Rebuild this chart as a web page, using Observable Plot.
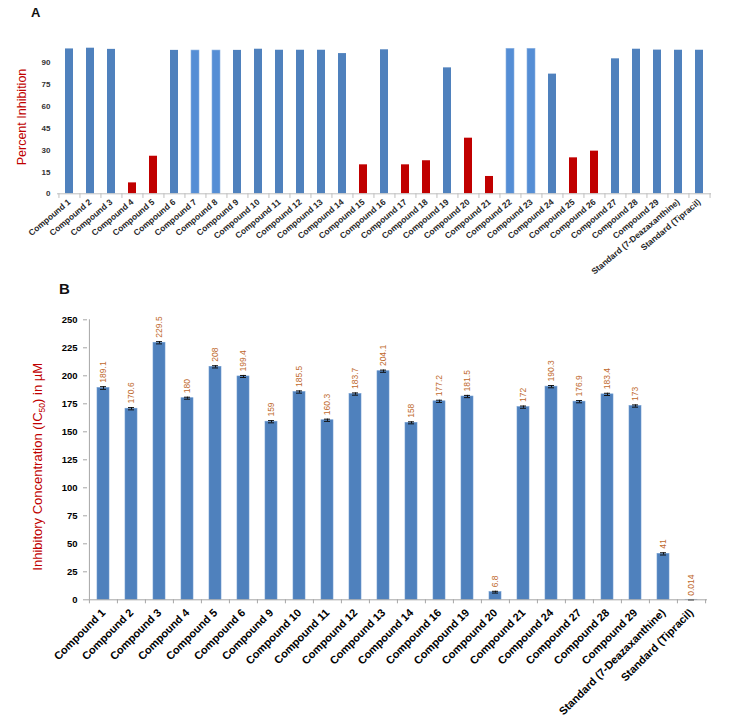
<!DOCTYPE html>
<html><head><meta charset="utf-8">
<script src="https://cdn.jsdelivr.net/npm/d3@7"></script>
<script src="https://cdn.jsdelivr.net/npm/@observablehq/plot@0.6"></script>
<style>
body{margin:0;background:#fff;font-family:"Liberation Sans",Arial,sans-serif;}
#wrap{position:relative;width:741px;height:727px;overflow:hidden;background:#fff;}
#wrap svg{position:absolute;left:0;}
#wrap g[aria-label="y-axis tick label"] text{font-weight:bold;}
.panel{position:absolute;font-weight:bold;font-family:"Liberation Sans",Arial,sans-serif;color:#111;}
</style></head><body><div id="wrap"></div><script>
// ---------- Panel A data ----------
const catsA = ["Compound 1","Compound 2","Compound 3","Compound 4","Compound 5","Compound 6","Compound 7","Compound 8","Compound 9","Compound 10","Compound 11","Compound 12","Compound 13","Compound 14","Compound 15","Compound 16","Compound 17","Compound 18","Compound 19","Compound 20","Compound 21","Compound 22","Compound 23","Compound 24","Compound 25","Compound 26","Compound 27","Compound 28","Compound 29","Standard (7-Deazaxanthine)","Standard (Tipracil)"];
const pctInhibition = [99.5,100,99.2,7.5,25.8,98.5,98.4,98.4,98.5,99.3,98.6,98.6,98.6,96.3,19.9,98.9,19.9,22.7,86.5,38.2,11.9,99.6,99.6,82.2,24.7,29.3,92.7,99.3,98.7,98.6,98.6];
const lighterA = ["Compound 7","Compound 8","Compound 22","Compound 23"];
const ticksA = [0,15,30,45,60,75,90];

// ---------- Panel B data ----------
const catsB = ["Compound 1","Compound 2","Compound 3","Compound 4","Compound 5","Compound 6","Compound 9","Compound 10","Compound 11","Compound 12","Compound 13","Compound 14","Compound 16","Compound 19","Compound 20","Compound 21","Compound 24","Compound 27","Compound 28","Compound 29","Standard (7-Deazaxanthine)","Standard (Tipracil)"];
const ic50 = [189.1,170.6,229.5,180,208,199.4,159,185.5,160.3,183.7,204.1,158,177.2,181.5,6.8,172,190.3,176.9,183.4,173,41,0.014];
const ic50Err = [1.2,1.0,1.0,0.9,1.0,0.9,1.0,1.0,1.0,1.0,1.0,0.9,1.0,1.0,0.8,1.0,1.0,1.0,1.0,1.0,1.0,0.01];
const ticksB = [0,25,50,75,100,125,150,175,200,225,250];

const wrap = document.getElementById("wrap");
const FONT = "Liberation Sans, Arial, sans-serif";

// ---------- Panel A ----------
const dataA = catsA.map((c,i)=>({c, v: pctInhibition[i]}));
const wA = 741, hA = 275, mlA = 57, mrA = 30, mtA = 47.7, mbA = 275-193.3;
const stepA = (wA-mlA-mrA)/catsA.length;
const colorA = d => d.v < 50 ? "#c00000" : (lighterA.includes(d.c) ? "#558ed5" : "#4f81bd");
const plotA = Plot.plot({
  width: wA, height: hA,
  marginLeft: mlA, marginRight: mrA, marginTop: mtA, marginBottom: mbA,
  style: {fontFamily: FONT, background: "transparent", overflow: "visible"},
  x: {type: "band", domain: catsA, paddingInner: 0.6, paddingOuter: 0.3, axis: null},
  y: {domain: [0,100], axis: null},
  marks: [
    Plot.barY(dataA, {x: "c", y: "v", fill: colorA, stroke: d => lighterA.includes(d.c) ? "#8db3e2" : "none", strokeWidth: 0.6}),
    Plot.ruleY([0], {stroke: "#bfbfbf", strokeWidth: 1}),
    Plot.ruleX(catsA, {x: d=>d, y1: 0, y2: -3.2, dx: -stepA/2, stroke: "#bfbfbf"}),
    Plot.ruleX(catsA.slice(-1), {x: d=>d, y1: 0, y2: -3.2, dx: stepA/2, stroke: "#bfbfbf"}),
    Plot.axisY({ticks: ticksA, tickSize: 0, tickPadding: 7, fontSize: 8, fontWeight: "bold", fill: "#333", label: null}),
    Plot.axisX({tickSize: 0, tickRotate: -40, tickPadding: 7, fontSize: 8.5, fontWeight: "bold", fill: "#262626", label: null}),
    Plot.text(["Percent Inhibition"], {frameAnchor: "left", textAnchor: "middle", rotate: -90, dx: -36, dy: -4, fontSize: 12.5, fill: "#c00000"})
  ]
});
plotA.style.top = "0px";
wrap.appendChild(plotA);

// ---------- Panel B ----------
const dataB = catsB.map((c,i)=>({c, v: ic50[i], e: ic50Err[i]}));
const topB = 260, wB = 741, hB = 467, mlB = 87, mrB = 34, mtB = 319.3-260, mbB = 727-599.3;
const stepB = (wB-mlB-mrB)/catsB.length;
const pxPerUnitB = (hB-mtB-mbB)/250;
const plotB = Plot.plot({
  width: wB, height: hB,
  marginLeft: mlB, marginRight: mrB, marginTop: mtB, marginBottom: mbB,
  style: {fontFamily: FONT, background: "transparent", overflow: "visible"},
  x: {type: "band", domain: catsB, paddingInner: 0.58, paddingOuter: 0.29, axis: null},
  y: {domain: [0,250], axis: null},
  marks: [
    Plot.barY(dataB, {x: "c", y: "v", fill: "#4f81bd", stroke: "#6f9bd0", strokeWidth: 0.6}),
    Plot.ruleX(dataB, {x: "c", y1: d=>d.v-d.e, y2: d=>d.v+d.e, stroke: "#111", strokeWidth: 1}),
    Plot.tickY(dataB, {x: "c", y: d=>d.v+d.e, stroke: "#111", strokeWidth: 1, insetLeft: 3, insetRight: 3}),
    Plot.tickY(dataB, {x: "c", y: d=>d.v-d.e, stroke: "#111", strokeWidth: 1, insetLeft: 3, insetRight: 3}),
    Plot.text(dataB, {x: "c", y: d=>d.v+d.e, text: d=>String(d.v), rotate: -90, textAnchor: "start", dy: -4, fontSize: 8.5, fill: "#c0692c"}),
    Plot.ruleY([0], {stroke: "#a6a6a6", strokeWidth: 1}),
    Plot.ruleX(catsB.slice(0,1), {x: d=>d, y1: 0, y2: 250, dx: -stepB/2, stroke: "#a6a6a6"}),
    Plot.ruleX(catsB, {x: d=>d, y1: 0, y2: -4/pxPerUnitB, dx: -stepB/2, stroke: "#a6a6a6"}),
    Plot.ruleX(catsB.slice(-1), {x: d=>d, y1: 0, y2: -4/pxPerUnitB, dx: stepB/2, stroke: "#a6a6a6"}),
    Plot.axisY({ticks: ticksB, tickSize: 4, tickPadding: 6, fontSize: 9.5, fontWeight: "bold", fill: "#000", stroke: "#a6a6a6", label: null}),
    Plot.axisX({tickSize: 0, tickRotate: -45, tickPadding: 11, fontSize: 11, fontWeight: "bold", fill: "#000", label: null}),
    Plot.text(["Inhibitory Concentration (IC50) in \u00b5M"], {frameAnchor: "left", textAnchor: "middle", rotate: -90, dx: -50, dy: 7, fontSize: 13, fill: "#c00000"})
  ]
});
plotB.style.top = topB + "px";
wrap.appendChild(plotB);

// subscript "50" in IC50
d3.select(plotB).selectAll("text").each(function(){
  const t = d3.select(this);
  if (t.text().startsWith("Inhibitory Concentration")) {
    const node = t.select("tspan").empty() ? t : t.select("tspan");
    node.text(null);
    node.append("tspan").text("Inhibitory Concentration (IC");
    node.append("tspan").attr("font-size", "8.5").attr("dy", "3").text("50");
    node.append("tspan").attr("dy", "-3").text(") in \u00b5M");
  }
});

// panel letters
const a = document.createElement("div"); a.className = "panel"; a.textContent = "A";
a.style.cssText = "left:31px;top:5px;font-size:13px;"; wrap.appendChild(a);
const b = document.createElement("div"); b.className = "panel"; b.textContent = "B";
b.style.cssText = "left:59px;top:280px;font-size:15px;"; wrap.appendChild(b);
</script></body></html>
